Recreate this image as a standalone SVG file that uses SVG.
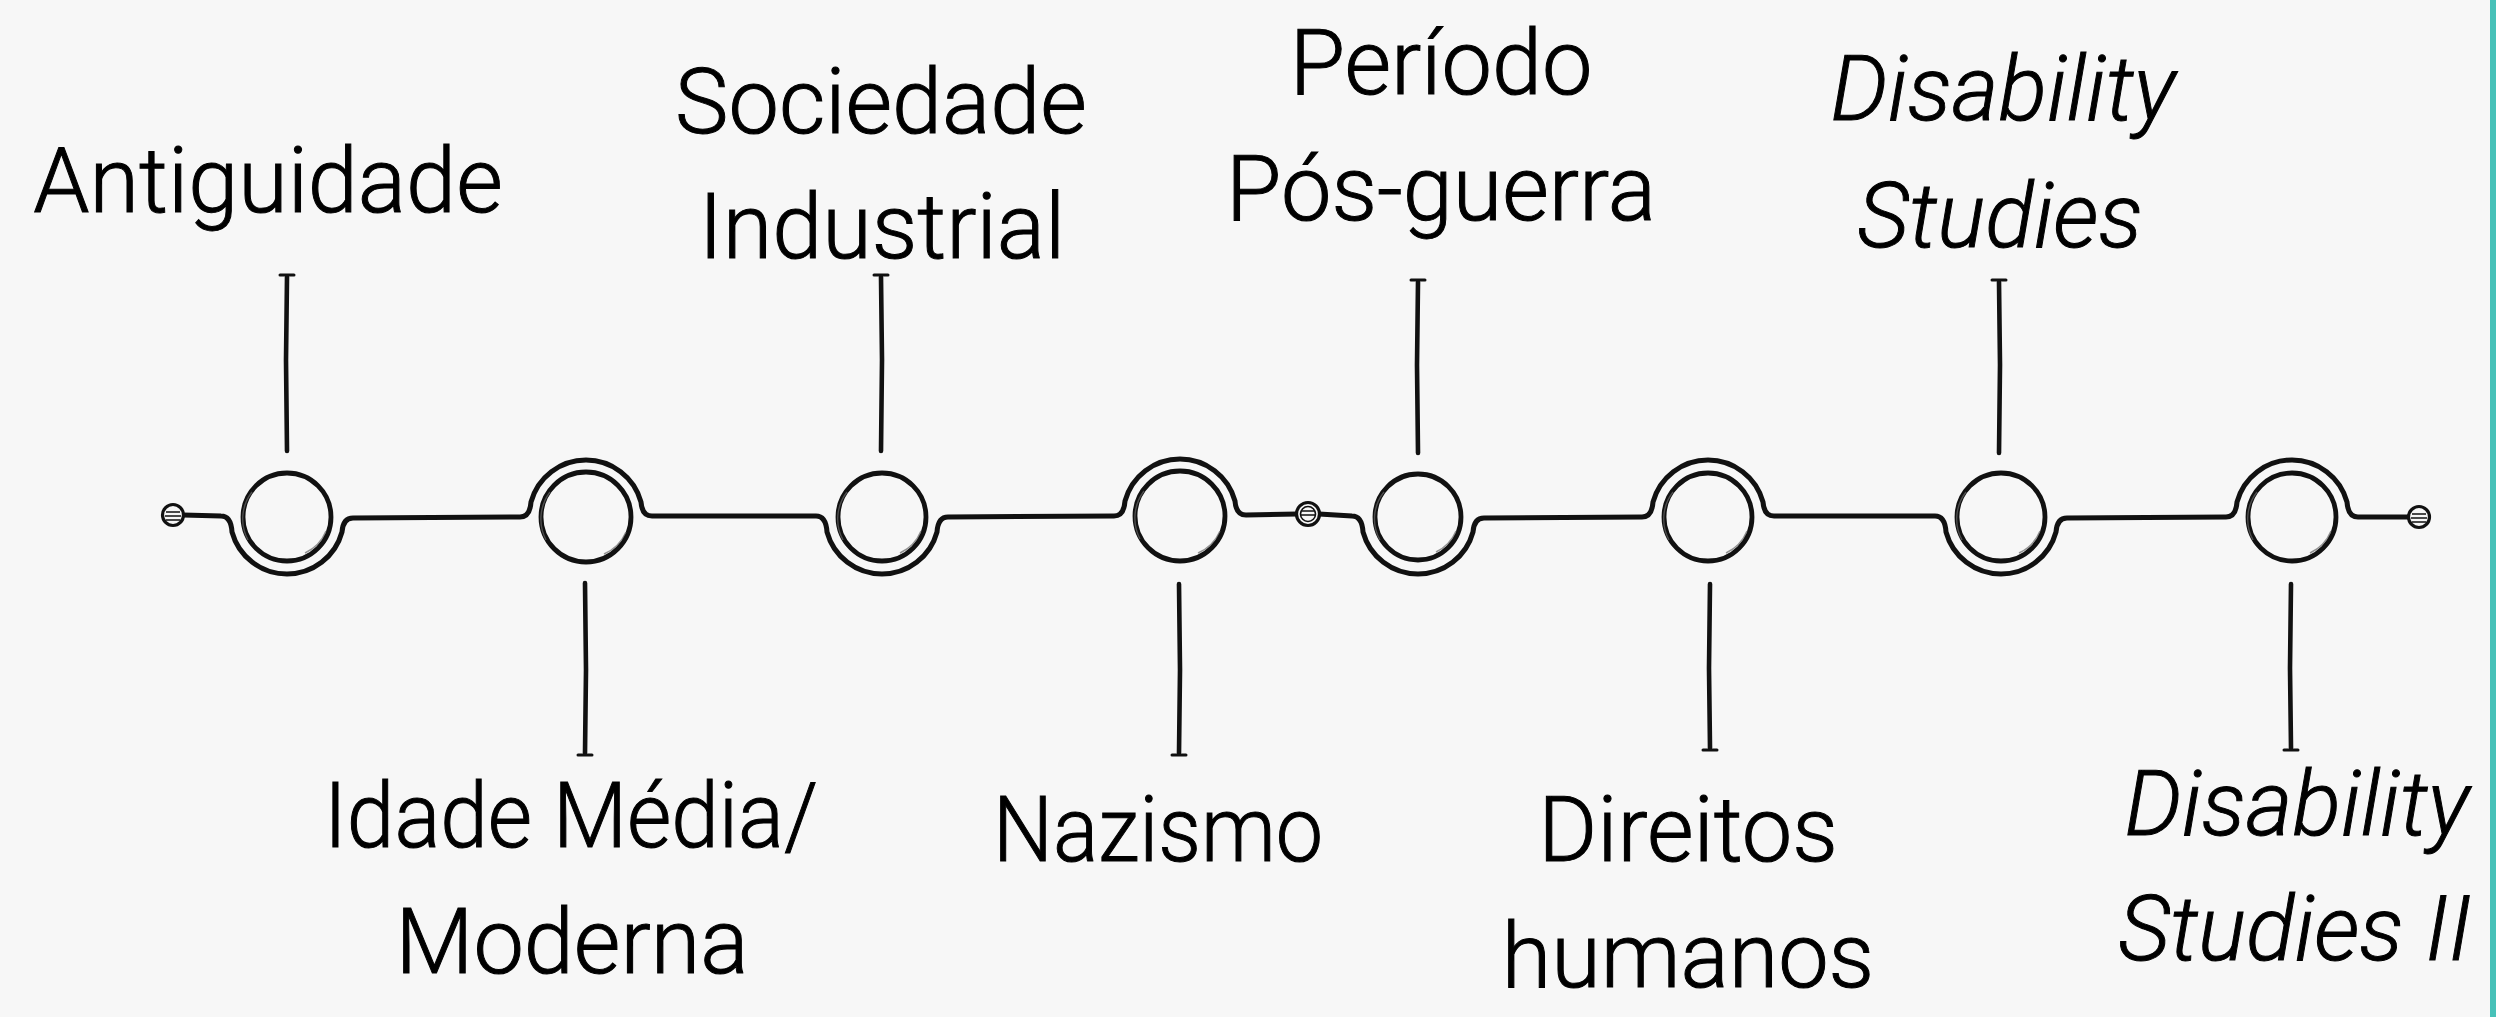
<svg xmlns="http://www.w3.org/2000/svg" width="2496" height="1017" viewBox="0 0 2496 1017">
  <style>
    .ln{fill:none;stroke:#111;stroke-width:5;stroke-linecap:round;stroke-linejoin:round}
    .ring{fill:none;stroke:#111;stroke-width:4.8}
    .sk{fill:none;stroke:#666;stroke-width:1.4;opacity:0.7}
    .tick{fill:none;stroke:#111;stroke-width:4.6;stroke-linecap:round}
    .cap{fill:none;stroke:#111;stroke-width:3;stroke-linecap:round}
    .term{fill:#f7f7f7;stroke:#111;stroke-width:3.2}
    .hatch{fill:none;stroke:#111;stroke-width:1.6}
    .lbl{font-family:Roboto,"Liberation Sans",sans-serif;font-size:90px;font-weight:300;fill:#000;stroke:#000;stroke-width:1;text-anchor:middle}
    .it{font-style:italic}
  </style>
  <rect x="0" y="0" width="2496" height="1017" fill="#f7f7f7"/>
  <rect x="2490" y="0" width="6" height="1017" fill="#47c1b8"/>

  <g id="connectors">
    <path class="ln" d="M 183,515 L 221,516 Q 231,516 232,532 A 57 57 0 0 0 342,532 Q 343,518 353,518 L 520,517
      Q 530,517 531,502 A 57 57 0 0 1 641,502 Q 642,516 652,516 L 816,516
      Q 826,516 827,532 A 57 57 0 0 0 937,532 Q 938,517 948,517 L 1114,516
      Q 1124,516 1125,501 A 57 57 0 0 1 1235,501 Q 1236,515 1246,515 L 1297,514"/>
    <path class="ln" d="M 1319,514 L 1352,516 Q 1362,516 1363,532 A 57 57 0 0 0 1473,532 Q 1474,518 1484,518 L 1642,517
      Q 1652,517 1653,502 A 57 57 0 0 1 1763,502 Q 1764,516 1774,516 L 1935,516
      Q 1945,516 1946,532 A 57 57 0 0 0 2056,532 Q 2057,518 2067,518 L 2226,517
      Q 2236,517 2237,502 A 57 57 0 0 1 2347,502 Q 2348,517 2358,517 L 2408,517"/>
  </g>

  <g id="start-terminal">
    <circle class="term" cx="173" cy="515" r="10.5"/>
    <path class="hatch" d="M 166,512 H 180 M 165,516 H 181 M 166,520 H 180"/>
  </g>
  <g id="mid-terminal">
    <circle class="term" cx="1308" cy="514" r="11.5"/>
    <circle class="hatch" cx="1308" cy="514" r="7.5"/>
    <path class="hatch" d="M 1302,511 H 1314 M 1301,515 H 1315"/>
  </g>
  <g id="end-terminal">
    <circle class="term" cx="2419" cy="517" r="10.5"/>
    <path class="hatch" d="M 2412,514 H 2426 M 2411,518 H 2427 M 2412,522 H 2426"/>
  </g>

  <g id="node-antiguidade">
    <circle class="ring" cx="287" cy="517" r="44"/>
    <path class="sk" d="M 248,540 A 44 44 0 0 1 252,492 M 305,553 A 42 42 0 0 0 326,531"/>
    <path class="tick" d="M 287,277 L 286,360 L 287,451"/>
    <path class="cap" d="M 280,275 H 294"/>
    <text class="lbl" x="268" y="212">Antiguidade</text>
  </g>

  <g id="node-idade-media">
    <circle class="ring" cx="586" cy="517" r="45"/>
    <path class="sk" d="M 546,540 A 45 45 0 0 1 550,492 M 604,554 A 43 43 0 0 0 626,532"/>
    <path class="tick" d="M 585,583 L 586,670 L 585,753"/>
    <path class="cap" d="M 578,755 H 592"/>
    <text class="lbl" x="571" y="847" textLength="494" lengthAdjust="spacingAndGlyphs">Idade Média/</text>
    <text class="lbl" x="572" y="973">Moderna</text>
  </g>

  <g id="node-sociedade-industrial">
    <circle class="ring" cx="882" cy="517" r="44"/>
    <path class="sk" d="M 843,540 A 44 44 0 0 1 847,492 M 900,553 A 42 42 0 0 0 921,531"/>
    <path class="tick" d="M 881,277 L 882,360 L 881,451"/>
    <path class="cap" d="M 874,275 H 888"/>
    <text class="lbl" x="881" y="133">Sociedade</text>
    <text class="lbl" x="882" y="258">Industrial</text>
  </g>

  <g id="node-nazismo">
    <circle class="ring" cx="1180" cy="516" r="45"/>
    <path class="sk" d="M 1140,539 A 45 45 0 0 1 1144,491 M 1198,553 A 43 43 0 0 0 1220,531"/>
    <path class="tick" d="M 1179,584 L 1180,670 L 1179,753"/>
    <path class="cap" d="M 1172,755 H 1186"/>
    <text class="lbl" x="1158" y="861" textLength="330" lengthAdjust="spacingAndGlyphs">Nazismo</text>
  </g>

  <g id="node-pos-guerra">
    <circle class="ring" cx="1418" cy="517" r="43"/>
    <path class="sk" d="M 1380,540 A 43 43 0 0 1 1384,492 M 1436,552 A 41 41 0 0 0 1456,531"/>
    <path class="tick" d="M 1418,282 L 1417,365 L 1418,453"/>
    <path class="cap" d="M 1411,280 H 1425"/>
    <text class="lbl" x="1441" y="94">Período</text>
    <text class="lbl" x="1441" y="220">Pós-guerra</text>
  </g>

  <g id="node-direitos-humanos">
    <circle class="ring" cx="1708" cy="517" r="44"/>
    <path class="sk" d="M 1669,540 A 44 44 0 0 1 1673,492 M 1726,553 A 42 42 0 0 0 1747,531"/>
    <path class="tick" d="M 1710,584 L 1709,668 L 1710,748"/>
    <path class="cap" d="M 1703,750 H 1717"/>
    <text class="lbl" x="1688" y="861">Direitos</text>
    <text class="lbl" x="1688" y="987">humanos</text>
  </g>

  <g id="node-disability-studies">
    <circle class="ring" cx="2001" cy="517" r="44"/>
    <path class="sk" d="M 1962,540 A 44 44 0 0 1 1966,492 M 2019,553 A 42 42 0 0 0 2040,531"/>
    <path class="tick" d="M 1999,282 L 2000,365 L 1999,453"/>
    <path class="cap" d="M 1992,280 H 2006"/>
    <text class="lbl it" x="2003" y="120">Disability</text>
    <text class="lbl it" x="2000" y="247">Studies</text>
  </g>

  <g id="node-disability-studies-ii">
    <circle class="ring" cx="2292" cy="517" r="44"/>
    <path class="sk" d="M 2253,540 A 44 44 0 0 1 2257,492 M 2310,553 A 42 42 0 0 0 2331,531"/>
    <path class="tick" d="M 2291,584 L 2290,668 L 2291,748"/>
    <path class="cap" d="M 2284,750 H 2298"/>
    <text class="lbl it" x="2297" y="835">Disability</text>
    <text class="lbl it" x="2295" y="960">Studies II</text>
  </g>
</svg>
